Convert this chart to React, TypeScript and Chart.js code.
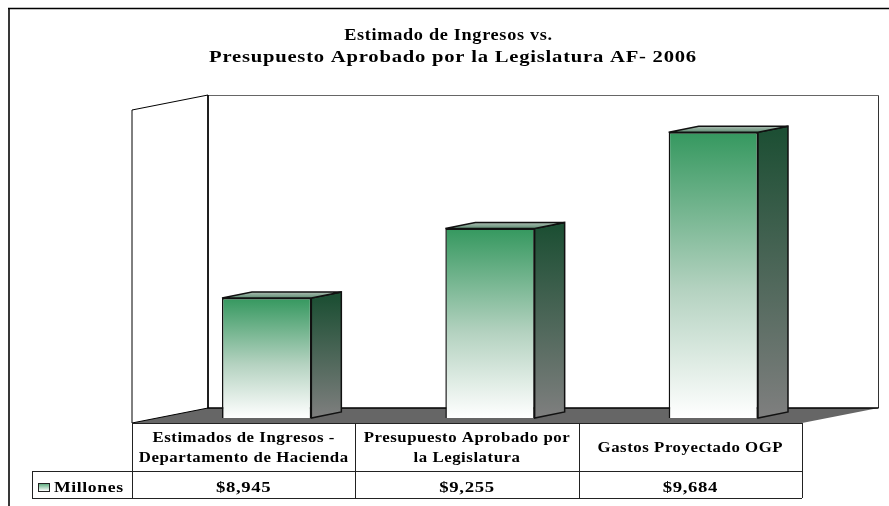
import React, { useEffect, useRef } from "react";
import { Chart, registerables } from "chart.js";

Chart.register(...registerables);

const categories = [
  ["Estimados de Ingresos -", "Departamento de Hacienda"],
  ["Presupuesto Aprobado por", "la Legislatura"],
  ["Gastos Proyectado OGP"],
];
const millones = [8945, 9255, 9684];
const titleLines = ["Estimado de Ingresos vs.", "Presupuesto Aprobado por la Legislatura AF- 2006"];
const seriesName = "Millones";

const FONT = '"Liberation Serif", "Times New Roman", serif';
const DX = 30; // depth of the 3-D projection
const DY = -6;
const SHIFT = 23; // bars stand mid-way into the floor

const fmt = (v: number) => "$" + v.toLocaleString("en-US");

// text in the reference is horizontally stretched
function wideText(ctx: any, s: string, x: number, y: number, sx: number) {
  ctx.save();
  ctx.translate(x, y);
  ctx.scale(sx, 1);
  ctx.fillText(s, 0, 0);
  ctx.restore();
}

const scene = {
  id: "scene",
  beforeDatasetsDraw(chart: any) {
    const { ctx, chartArea: a } = chart;
    const L = a.left, R = a.right, F = 423, B = 408, T = 95, W = 208, E = 878.5;
    ctx.save();
    ctx.strokeStyle = "#000000";
    ctx.lineWidth = 1;
    // floor
    ctx.beginPath();
    ctx.moveTo(L, F); ctx.lineTo(W, B); ctx.lineTo(E, B); ctx.lineTo(R, F); ctx.closePath();
    ctx.fillStyle = "#666666";
    ctx.fill();
    // side wall
    ctx.beginPath();
    ctx.moveTo(L, F); ctx.lineTo(L, 110); ctx.lineTo(W, T); ctx.lineTo(W, B); ctx.closePath();
    ctx.stroke();
    // back wall
    ctx.strokeStyle = "#666666";
    ctx.lineWidth = 1.2;
    ctx.beginPath(); ctx.moveTo(W, T + .5); ctx.lineTo(E, T + .5); ctx.stroke();
    ctx.strokeStyle = "#333333";
    ctx.lineWidth = 1;
    ctx.beginPath(); ctx.moveTo(E, T + .5); ctx.lineTo(E, B); ctx.stroke();
    ctx.strokeStyle = "#000000";
    ctx.lineWidth = 1.5;
    ctx.beginPath(); ctx.moveTo(W, T); ctx.lineTo(W, B); ctx.lineTo(E, B); ctx.stroke();
    ctx.restore();

    ctx.save();
    ctx.translate(SHIFT, 0);
    const meta = chart.getDatasetMeta(0);
    meta.data.forEach((bar: any) => {
      const l = bar.x - bar.width / 2, r = bar.x + bar.width / 2, t = bar.y, b = a.bottom;
      ctx.strokeStyle = "#111111";
      ctx.lineWidth = 1.5;
      const side = ctx.createLinearGradient(0, t, 0, b);
      side.addColorStop(0, "#1d4f34");
      side.addColorStop(1, "#7f7f7f");
      ctx.fillStyle = side;
      ctx.beginPath();
      ctx.moveTo(r, t); ctx.lineTo(r + DX, t + DY); ctx.lineTo(r + DX, b + DY); ctx.lineTo(r, b); ctx.closePath();
      ctx.fill(); ctx.stroke();
      const top = ctx.createLinearGradient(0, t + DY, 0, t);
      top.addColorStop(0, "#aebdb3");
      top.addColorStop(1, "#5f8f74");
      ctx.fillStyle = top;
      ctx.beginPath();
      ctx.moveTo(l, t); ctx.lineTo(l + DX, t + DY); ctx.lineTo(r + DX, t + DY); ctx.lineTo(r, t); ctx.closePath();
      ctx.fill(); ctx.stroke();
    });
  },
  afterDatasetsDraw(chart: any) {
    chart.ctx.restore();
  },
  afterDraw(chart: any) {
    const { ctx, chartArea: a, scales } = chart;
    const x = scales.x;
    const L = a.left, R = a.right;
    const rows = [423, 471, 498];
    ctx.save();
    // outer frame
    ctx.strokeStyle = "#383838";
    ctx.lineWidth = 2;
    ctx.beginPath(); ctx.moveTo(9, 506); ctx.lineTo(9, 9); ctx.stroke();
    ctx.strokeStyle = "#000000";
    ctx.lineWidth = 1.5;
    ctx.beginPath(); ctx.moveTo(8, 8.5); ctx.lineTo(889, 8.5); ctx.stroke();
    // table
    ctx.strokeStyle = "#222222";
    ctx.lineWidth = 1;
    ctx.beginPath();
    ctx.moveTo(L, 423.5); ctx.lineTo(R, 423.5);
    ctx.moveTo(32, 471.5); ctx.lineTo(R, 471.5);
    ctx.moveTo(32, 498.5); ctx.lineTo(R, 498.5);
    ctx.moveTo(32.5, 471); ctx.lineTo(32.5, 498);
    ctx.moveTo(L + .5, 423); ctx.lineTo(L + .5, 498);
    ctx.moveTo(R + .5, 423); ctx.lineTo(R + .5, 498);
    const step = (R - L) / categories.length;
    categories.forEach((_, i) => {
      if (i) { const px = Math.round(L + step * i) + .5; ctx.moveTo(px, 423); ctx.lineTo(px, 498); }
    });
    ctx.stroke();
    // swatch
    const g = ctx.createLinearGradient(0, 482, 0, 491);
    g.addColorStop(0, "#35985f"); g.addColorStop(1, "#ffffff");
    ctx.fillStyle = g;
    ctx.fillRect(38.5, 483.5, 11, 8);
    ctx.strokeRect(38.5, 483.5, 11, 8);
    // texts
    ctx.fillStyle = "#000000";
    ctx.textBaseline = "middle";
    ctx.textAlign = "center";
    ctx.font = `bold 16.5px ${FONT}`;
    ctx.letterSpacing = "0.62px";
    wideText(ctx, titleLines[0], 448.5, 36, 1.105);
    wideText(ctx, titleLines[1], 453, 58, 1.25);
    ctx.font = `bold 15px ${FONT}`;
    ctx.letterSpacing = "0.5px";
    ctx.textAlign = "left";
    wideText(ctx, seriesName, 54, 488, 1.18);
    ctx.textAlign = "center";
    categories.forEach((lines, i) => {
      const cx = x.getPixelForValue(i);
      ctx.font = `bold 15px ${FONT}`;
      ctx.letterSpacing = "0.5px";
      wideText(ctx, fmt(millones[i]), cx, 488, 1.25);
      ctx.font = `bold 14px ${FONT}`;
      ctx.letterSpacing = "0.45px";
      const mid = (rows[0] + rows[1]) / 2 + 1.5;
      lines.forEach((s, k) => wideText(ctx, s, cx, mid + (k - (lines.length - 1) / 2) * 20, 1.2));
    });
    ctx.restore();
  },
};

export default function App() {
  const ref = useRef<HTMLCanvasElement>(null);
  useEffect(() => {
    document.body.style.margin = "0";
    const chart = new Chart(ref.current!, {
      type: "bar",
      data: {
        labels: categories.map((c) => c.join(" ")),
        datasets: [
          {
            label: seriesName,
            data: millones,
            borderColor: "#111111",
            borderWidth: 1.5,
            barPercentage: 0.8,
            categoryPercentage: 0.5,
            backgroundColor: (c: any) => {
              const a = c.chart.chartArea;
              const ys = c.chart.scales.y;
              if (!a || !ys || typeof c.raw !== "number") return "#35985f";
              const top = ys.getPixelForValue(c.raw);
              if (!Number.isFinite(top)) return "#35985f";
              const g = c.chart.ctx.createLinearGradient(0, top, 0, a.bottom);
              g.addColorStop(0, "#35985f");
              g.addColorStop(0.55, "#b4d2c0");
              g.addColorStop(1, "#ffffff");
              return g;
            },
          },
        ],
      },
      options: {
        animation: false,
        responsive: false,
        layout: { padding: { left: 132, right: 87, top: 110, bottom: 88 } },
        plugins: {
          legend: { display: false },
          tooltip: { enabled: false },
          title: { display: false },
        },
        scales: {
          x: { display: false },
          y: { display: false, min: 8410, max: 9783 },
        },
      },
      plugins: [scene],
    } as any);
    return () => chart.destroy();
  }, []);
  return (
    <div style={{ position: "absolute", left: 0, top: 0, width: 889, height: 506, background: "#fff" }}>
      <canvas ref={ref} width={889} height={506} style={{ display: "block" }} />
    </div>
  );
}
